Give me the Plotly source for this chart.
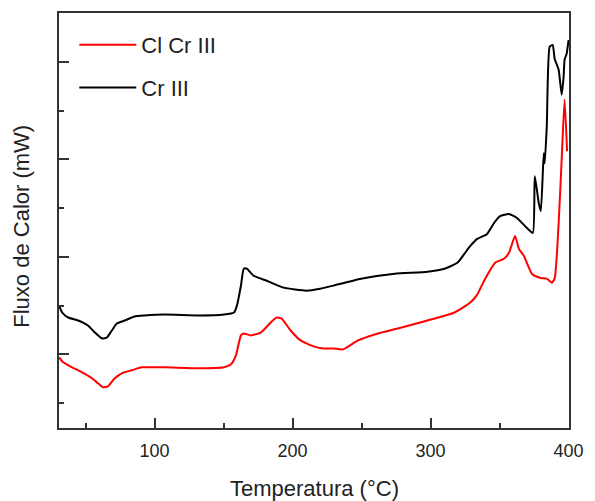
import plotly.graph_objects as go

# Cl Cr III (red)
red_x = [30.9, 33.8, 40.3, 47.5, 54.7, 59.0, 62.6, 66.2, 71.2, 76.3, 83.5, 90.6, 107.2, 132.4, 150.4,
         155.4, 159.0, 162.6, 164.7, 169.8, 177.0, 184.2, 188.5, 192.1, 198.6, 205.8, 215.1, 222.3,
         229.5, 236.7, 247.5, 261.9, 276.3, 297.8, 317.3, 328.8, 333.8, 338.8, 346.8, 353.2, 356.8,
         361.2, 364.0, 367.6, 373.4, 379.1, 384.2, 387.8, 389.9, 392.8, 395.0, 397.1, 398.9]
red_y = [0.969, 0.918, 0.867, 0.816, 0.755, 0.704, 0.663, 0.673, 0.755, 0.806, 0.837, 0.867, 0.867,
         0.857, 0.867, 0.898, 0.990, 1.194, 1.214, 1.194, 1.224, 1.327, 1.378, 1.367, 1.245, 1.143,
         1.082, 1.061, 1.061, 1.051, 1.143, 1.214, 1.265, 1.347, 1.429, 1.531, 1.612, 1.755, 1.939,
         1.980, 2.041, 2.214, 2.082, 2.010, 1.827, 1.786, 1.776, 1.735, 1.776, 2.347, 3.000, 3.612,
         3.082]

# Cr III (black)
black_x = [30.9, 33.1, 37.4, 44.6, 51.8, 56.8, 61.9, 65.5, 69.1, 72.7, 78.4, 85.6, 92.8, 107.2, 132.4,
           150.4, 157.6, 159.7, 162.6, 164.7, 166.9, 171.9, 181.3, 193.5, 210.1, 220.1, 229.5, 249.6,
           274.1, 297.8, 310.1, 319.4, 324.5, 328.8, 333.8, 341.0, 346.0, 350.4, 356.8, 362.6, 369.8,
           374.1, 375.5, 378.4, 379.9, 382.0, 382.7, 384.2, 386.3, 388.5, 389.9, 392.8, 395.0, 396.4,
           397.1, 398.6, 400.0]
black_y = [1.500, 1.429, 1.378, 1.347, 1.296, 1.224, 1.163, 1.173, 1.245, 1.316, 1.347, 1.388, 1.398,
           1.408, 1.398, 1.408, 1.429, 1.500, 1.704, 1.878, 1.878, 1.806, 1.755, 1.684, 1.653, 1.673,
           1.705, 1.776, 1.827, 1.847, 1.878, 1.939, 2.031, 2.112, 2.184, 2.235, 2.347, 2.418, 2.439,
           2.398, 2.296, 2.245, 2.827, 2.551, 2.469, 3.061, 2.959, 3.337, 4.153, 4.173, 4.031, 3.918,
           3.663, 3.847, 4.020, 4.082, 4.224]

x_ticks = [100, 200, 300, 400]
x_minor = [50, 150, 250, 350]
y_ticks = [1, 2, 3, 4]
y_minor = [0.5, 1.5, 2.5, 3.5]

FONT = "Liberation Sans, Arial, sans-serif"
TXT = "#222222"
AX = "#333333"

fig = go.Figure()
fig.add_trace(go.Scatter(x=red_x, y=red_y, mode="lines", name="Cl Cr III",
                         line=dict(color="#ff0000", width=2, shape="spline", smoothing=0.5),
                         legend="legend"))
fig.add_trace(go.Scatter(x=black_x, y=black_y, mode="lines", name="Cr III",
                         line=dict(color="#000000", width=2, shape="spline", smoothing=0.5),
                         legend="legend2"))

axis_common = dict(showline=True, linecolor=AX, linewidth=2, mirror=True,
                   showgrid=False, zeroline=False, ticks="inside", ticklen=10,
                   tickwidth=1.5, tickcolor=AX)

fig.update_layout(
    width=595, height=501,
    margin=dict(l=59, r=23, t=11, b=73),
    plot_bgcolor="white", paper_bgcolor="white",
    font=dict(family=FONT, color=TXT),
    xaxis=dict(range=[30.8, 400.3], tickvals=x_ticks, ticktext=[str(v) for v in x_ticks],
               tickfont=dict(size=18, family=FONT, color=TXT),
               ticklabelstandoff=5,
               minor=dict(tickvals=x_minor, ticks="inside", ticklen=5,
                          tickwidth=1.5, tickcolor=AX),
               **axis_common),
    yaxis=dict(range=[0.245, 4.5], tickvals=y_ticks, showticklabels=False,
               minor=dict(tickvals=y_minor, ticks="inside", ticklen=5,
                          tickwidth=1.5, tickcolor=AX),
               **axis_common),
    legend=dict(x=0.03, y=0.923, xanchor="left", yanchor="middle",
                bgcolor="rgba(0,0,0,0)", font=dict(size=22, family=FONT, color=TXT),
                itemwidth=57),
    legend2=dict(x=0.03, y=0.820, xanchor="left", yanchor="middle",
                 bgcolor="rgba(0,0,0,0)", font=dict(size=22, family=FONT, color=TXT),
                 itemwidth=57),
    showlegend=True,
    annotations=[
        dict(text="Temperatura (°C)", xref="paper", yref="paper", x=0.5, y=0,
             yshift=-60, xanchor="center", yanchor="middle", showarrow=False,
             font=dict(size=22, family=FONT, color=TXT)),
        dict(text="Fluxo de Calor (mW)", xref="paper", yref="paper", x=0, y=0.485,
             xshift=-37, xanchor="center", yanchor="middle", textangle=-90, showarrow=False,
             font=dict(size=22, family=FONT, color=TXT)),
    ],
)

fig.write_html("out.html", config={"displayModeBar": False},
               post_script="document.body.style.margin='0px';")
